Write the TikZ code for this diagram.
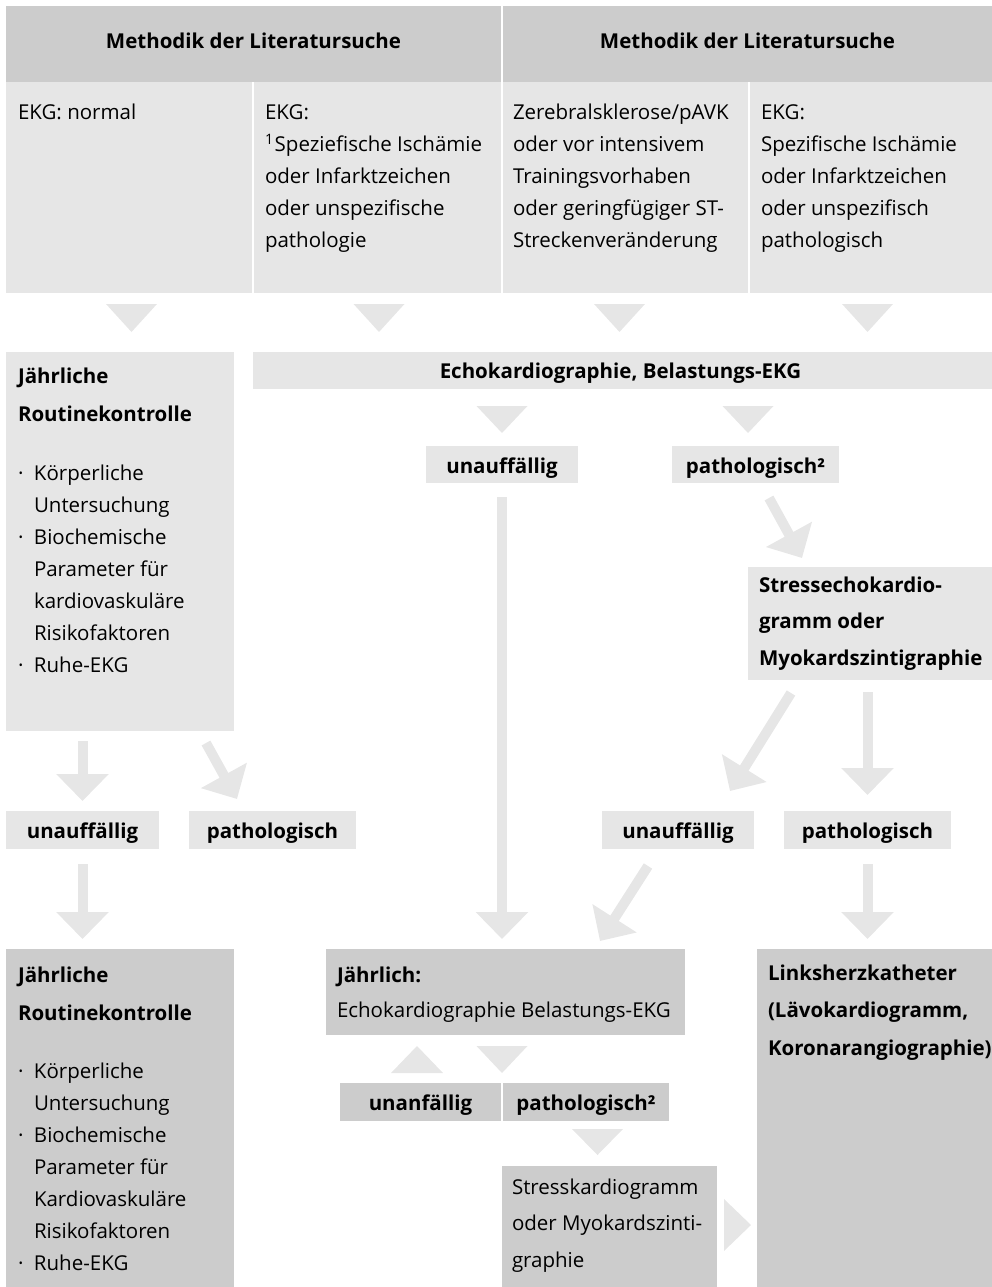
\documentclass[tikz,border=0pt]{standalone}
\usepackage{fontspec}
\setmainfont{Open Sans}
\usetikzlibrary{arrows.meta,calc}
\definecolor{lg}{HTML}{E6E6E6}
\definecolor{dg}{HTML}{CCCCCC}
\newcommand{\bul}{\makebox[16pt][l]{·}}
\newcommand{\ind}{\hspace*{16pt}}
\begin{document}
\begin{tikzpicture}[x=1pt,y=-1pt,
  box/.style={draw=none, inner sep=0pt, outer sep=0pt, anchor=north west},
  lbox/.style={box, fill=lg},
  dbox/.style={box, fill=dg},
  btag/.style={font=\fontsize{20.5}{24}\selectfont\bfseries, text height=17pt, text depth=0pt},
  txt/.style={inner sep=0pt, outer sep=0pt, anchor=base west, font=\fontsize{20.5}{32}\selectfont},
  btxt/.style={inner sep=0pt, outer sep=0pt, anchor=base west, font=\fontsize{20.5}{38}\selectfont\bfseries},
  bigarrow/.style={draw=lg, line width=10pt, -{Triangle[width=51pt,length=27pt]}},
  tri/.style={fill=lg, draw=none}]

\useasboundingbox (0,0) rectangle (992,1287);

% header
\node[dbox, minimum width=495pt, minimum height=76pt, font=\fontsize{20.5}{24}\selectfont\bfseries, text height=9pt, text depth=0pt] (h1) at (6,6) {Methodik der Literatursuche};
\node[dbox, minimum width=489pt, minimum height=76pt, font=\fontsize{20.5}{24}\selectfont\bfseries, text height=9pt, text depth=0pt] (h2) at (503,6) {Methodik der Literatursuche};

% row of cells
\node[lbox, minimum width=246pt, minimum height=211pt] (c1) at (6,82) {};
\node[lbox, minimum width=247pt, minimum height=211pt] (c2) at (254,82) {};
\node[lbox, minimum width=245pt, minimum height=211pt] (c3) at (503,82) {};
\node[lbox, minimum width=242pt, minimum height=211pt] (c4) at (750,82) {};
\node[txt] (tc1) at (18,120) {EKG: normal};
\node[txt] (tc2) at (265,120) {\parbox[t]{235pt}{EKG:\\\textsuperscript{1}\hspace{1pt}Speziefische Ischämie\\oder Infarktzeichen\\oder unspezifische\\pathologie}};
\node[txt] (tc3) at (513,120) {\parbox[t]{235pt}{Zerebralsklerose/pAVK\\oder vor intensivem\\Trainingsvorhaben\\oder geringfügiger ST-\\Streckenveränderung}};
\node[txt] (tc4) at (761,120) {\parbox[t]{230pt}{EKG:\\Spezifische Ischämie\\oder Infarktzeichen\\oder unspezifisch\\pathologisch}};

% triangles below cells
\fill[tri] (106,304) -- (157,304) -- (131.5,332) -- cycle;
\fill[tri] (353.5,304) -- (404.5,304) -- (379,332) -- cycle;
\fill[tri] (594,304) -- (645,304) -- (619.5,332) -- cycle;
\fill[tri] (842,304) -- (893,304) -- (867.5,332) -- cycle;

% left column first box
\node[lbox, minimum width=228pt, minimum height=379pt] (jr1) at (6,352) {};
\node[btxt] (tjr1) at (18,383) {\parbox[t]{215pt}{Jährliche\\Routinekontrolle}};
\node[txt] (tjr1b) at (18,480) {\parbox[t]{215pt}{\bul Körperliche\\\ind Untersuchung\\\bul Biochemische\\\ind Parameter für\\\ind kardiovaskuläre\\\ind Risikofaktoren\\\bul Ruhe-EKG}};

% echo bar
\node[lbox, minimum width=739pt, minimum height=37pt] (echo) at (253,352) {};
\node[inner sep=0pt, anchor=base, font=\fontsize{20.5}{24}\selectfont\bfseries] (techo) at (620.5,378) {Echokardiographie, Belastungs-EKG};

\fill[tri] (476.5,406) -- (527.5,406) -- (502,433) -- cycle;
\fill[tri] (722.5,406) -- (773.5,406) -- (748,433) -- cycle;

\node[lbox, btag, minimum width=152pt, minimum height=37pt] (umid) at (426,446) {unauffällig};
\node[lbox, btag, minimum width=167pt, minimum height=37pt] (pmid) at (672,446) {pathologisch²};

% stress echo box
\node[lbox, minimum width=244pt, minimum height=113pt] (sech) at (748,567) {};
\node[btxt, font=\fontsize{20.5}{36.5}\selectfont\bfseries] (tsech) at (759,592) {\parbox[t]{232pt}{Stressechokardio-\\gramm oder\\Myokardszintigraphie}};

% second row of tags
\node[lbox, btag, minimum width=153pt, minimum height=38pt] (uleft) at (6,811) {unauffällig};
\node[lbox, btag, minimum width=167pt, minimum height=38pt] (pleft) at (189,811) {pathologisch};
\node[lbox, btag, minimum width=152pt, minimum height=38pt] (uright) at (602,811) {unauffällig};
\node[lbox, btag, minimum width=167pt, minimum height=38pt] (pright) at (784,811) {pathologisch};

% bottom boxes
\node[dbox, minimum width=228pt, minimum height=338pt] (jr2) at (6,949) {};
\node[btxt] (tjr2) at (18,982) {\parbox[t]{215pt}{Jährliche\\Routinekontrolle}};
\node[txt] (tjr2b) at (18,1078) {\parbox[t]{215pt}{\bul Körperliche\\\ind Untersuchung\\\bul Biochemische\\\ind Parameter für\\\ind Kardiovaskuläre\\\ind Risikofaktoren\\\bul Ruhe-EKG}};

\node[dbox, minimum width=359pt, minimum height=86pt] (jahr) at (326,949) {};
\node[txt, font=\fontsize{20.5}{35}\selectfont] (tjahr) at (337,982) {\parbox[t]{345pt}{\textbf{Jährlich:}\\Echokardiographie Belastungs-EKG}};

\fill[tri] (391,1073) -- (443,1073) -- (417,1046) -- cycle;
\fill[tri] (476.5,1046) -- (527.5,1046) -- (502,1073) -- cycle;

\node[dbox, btag, minimum width=161pt, minimum height=38pt] (una) at (340,1083) {unanfällig};
\node[dbox, btag, minimum width=166pt, minimum height=38pt] (pat2) at (503,1083) {pathologisch²};

\fill[tri] (572,1129) -- (623,1129) -- (597.5,1155) -- cycle;

\node[dbox, minimum width=215pt, minimum height=121pt] (stress) at (502,1166) {};
\node[txt, font=\fontsize{20.5}{36.5}\selectfont] (tstress) at (512,1194) {\parbox[t]{205pt}{Stresskardiogramm\\oder Myokardszinti-\\graphie}};

\fill[tri] (724,1199) -- (751,1225) -- (724,1251) -- cycle;

\node[dbox, minimum width=235pt, minimum height=338pt] (lhk) at (757,949) {};
\node[btxt, font=\fontsize{20.5}{37.5}\selectfont\bfseries] (tlhk) at (768,980) {\parbox[t]{224pt}{Linksherzkatheter\\(Lävokardiogramm,\\Koronarangiographie)}};

% arrows
\draw[bigarrow] ($(uleft.north |- jr1.south)+(0,10)$) -- ($(uleft.north)+(0,-10)$);
\draw[bigarrow] ($(jr1.south west)+(200,12)$) -- ($(pleft.north west)+(48,-12)$);
\draw[bigarrow] ($(uleft.south)+(0,15)$) -- ($(uleft.south |- jr2.north)+(0,-10)$);
\draw[bigarrow] ($(umid.south)+(0,14)$) -- ($(umid.south |- jahr.north)+(0,-10)$);
\draw[bigarrow] ($(pmid.south)+(13.5,15)$) -- ($(sech.north west)+(54,-9)$);
\draw[bigarrow] ($(sech.south west)+(43,13)$) -- ($(uright.north)+(52,-20)$);
\draw[bigarrow] ($(pright.north |- sech.south)+(0,12)$) -- ($(pright.north)+(0,-16)$);
\draw[bigarrow] ($(uright.south)+(-30,17)$) -- ($(jahr.north east)+(-85,-8)$);
\draw[bigarrow] ($(pright.south)+(0,15)$) -- ($(pright.south |- lhk.north)+(0,-10)$);
\end{tikzpicture}
\end{document}
